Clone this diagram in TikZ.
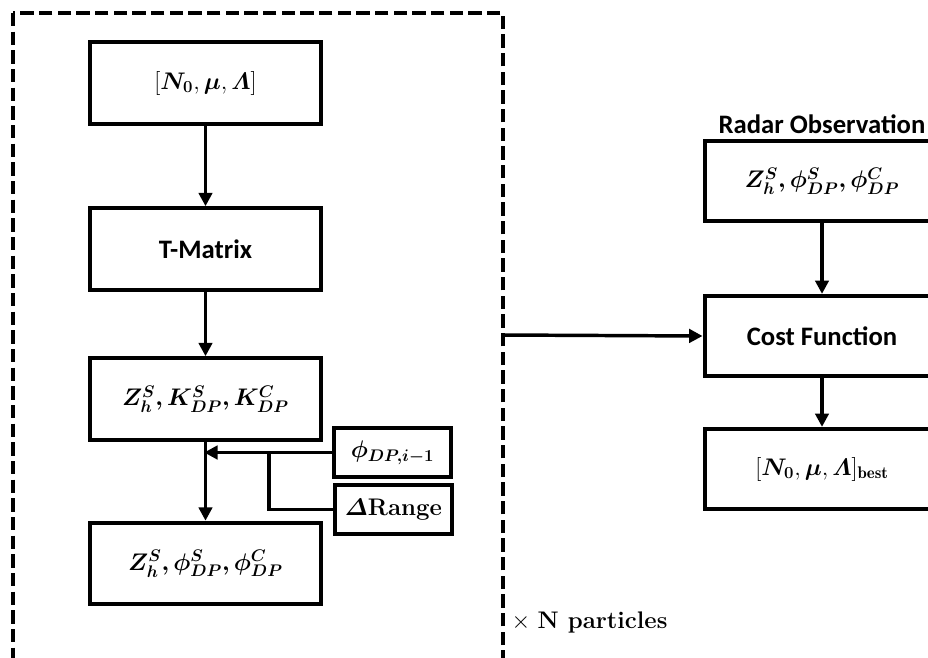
\RequirePackage{fix-cm}
\documentclass[tikz,border=0pt]{standalone}
\usepackage{amsmath, amssymb, bm}
\usepackage{fontspec}
\newfontfamily\calibri{Carlito}
\usepackage{tikz}
\usetikzlibrary{arrows.meta, positioning}

\begin{document}
\begin{tikzpicture}[x=0.75pt, y=-0.75pt, >={Triangle[length=10pt, width=10pt]},
    mainbox/.style={draw, line width=3.2pt, minimum width=173pt, minimum height=61pt,
        inner sep=0pt, font=\fontsize{18}{22}\selectfont},
    smallbox/.style={draw, line width=3.2pt, minimum width=88pt, minimum height=37pt,
        inner sep=0pt, font=\fontsize{18}{22}\selectfont},
    obsbox/.style={draw, line width=3.2pt, minimum width=176pt, minimum height=60pt,
        inner sep=0pt, font=\fontsize{18}{22}\selectfont},
    sanslabel/.style={font=\calibri\bfseries\fontsize{20}{24}\selectfont},
    conn/.style={line width=2.6pt}]

    % =================================================================
    % 1. CANVAS (the right column runs past the right edge)
    % =================================================================
    \useasboundingbox (0,0) rectangle (928,657);
    \clip (0,0) rectangle (928,657);

    % =================================================================
    % 2. PARTICLE LOOP (dashed frame, open at the bottom)
    % =================================================================
    \draw[line width=3.2pt, dash pattern=on 10pt off 4pt] (13,13) rectangle (503,700);
    \coordinate (frameout) at (503,335);

    \node[mainbox] (prior) at (205.5,83) {$[\bm{N_0}, \bm{\mu}, \bm{\varLambda}]$};
    \node[mainbox] (tmat) at (205.5,249) {\calibri\bfseries\fontsize{20}{24}\selectfont T-Matrix};
    \node[mainbox] (kdp) at (205.5,399) {$\bm{Z^S_h, K^S_{DP}, K^C_{DP}}$};
    \node[smallbox] (phiprev) at (392.5,452.5) {$\bm{\phi_{DP,i-1}}$};
    \node[smallbox] (drange) at (393.5,509.5) {$\bm{\varDelta}$\textbf{Range}};
    \node[mainbox] (sim) at (205.5,563.5) {$\bm{Z^S_h, \phi^S_{DP}, \phi^C_{DP}}$};

    \node[right, font=\fontsize{18}{22}\selectfont] (nlabel) at (507,622) {$\times$ \textbf{N particles}};

    % =================================================================
    % 3. OBSERVATION AND COST
    % =================================================================
    \node[obsbox] (obs) at (822,181) {$\bm{Z^S_h, \phi^S_{DP}, \phi^C_{DP}}$};
    \node[sanslabel, above=0pt of obs] (obslabel) {Radar Observation};
    \node[obsbox, sanslabel] (cost) at (822,336) {Cost Function};
    \node[obsbox] (best) at (822,469) {$[\bm{N_0}, \bm{\mu}, \bm{\varLambda}]_{\mathbf{best}}$};

    % =================================================================
    % 4. CONNECTORS
    % =================================================================
    \draw[conn, ->] (prior) -- (tmat);
    \draw[conn, ->] (tmat) -- (kdp);
    \draw[conn, ->] (kdp) -- (sim);

    \coordinate (merge) at (kdp.south |- phiprev.west);
    \coordinate (tap) at (269,452.5);
    \draw[conn, ->, shorten >=-1pt] (phiprev.west) -- (merge);
    \draw[conn] (drange.west) -| (tap);

    \draw[conn, ->] (frameout) -- (cost.west);
    \draw[conn, ->] (obs) -- (cost);
    \draw[conn, ->] (cost) -- (best);

\end{tikzpicture}
\end{document}
